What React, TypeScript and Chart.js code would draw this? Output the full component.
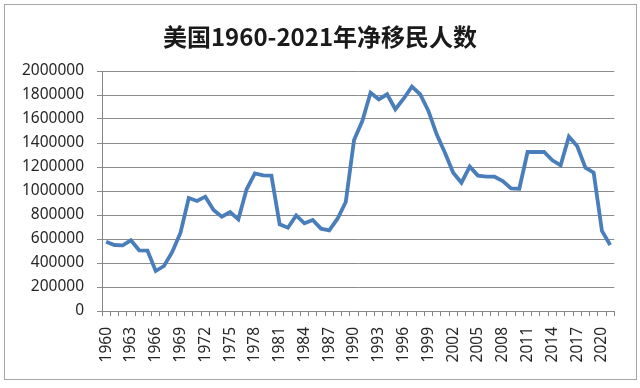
import React, { useEffect, useRef } from "react";
import { Chart, registerables } from "chart.js";

Chart.register(...registerables);

const titleText = "美国1960-2021年净移民人数";

const years: string[] = [];
for (let y = 1960; y <= 2021; y++) years.push(String(y));

const netMigration: number[] = [
  578000, 550000, 547000, 589000, 506000, 503000, 333000, 375000, 492000, 653000,
  942000, 917000, 953000, 842000, 786000, 825000, 764000, 1014000, 1147000, 1131000,
  1128000, 722000, 694000, 797000, 731000, 758000, 686000, 672000, 769000, 908000,
  1425000, 1583000, 1819000, 1764000, 1806000, 1681000, 1769000, 1869000, 1806000, 1667000,
  1472000, 1319000, 1153000, 1069000, 1203000, 1128000, 1119000, 1119000, 1083000, 1022000,
  1019000, 1325000, 1325000, 1325000, 1256000, 1214000, 1453000, 1375000, 1194000, 1153000,
  667000, 550000,
];

const yMin = 0;
const yMax = 2000000;
const yStep = 200000;
const labelEvery = 3;

const framePlugin = {
  id: "frame",
  beforeDraw(chart: any) {
    const ctx = chart.ctx;
    ctx.save();
    ctx.fillStyle = "#ffffff";
    ctx.fillRect(0, 0, chart.width, chart.height);
    ctx.strokeStyle = "#a6a6a6";
    ctx.lineWidth = 1;
    ctx.strokeRect(4.5, 4.5, 632, 375);
    ctx.restore();
  },
  afterDraw(chart: any) {
    const ctx = chart.ctx;
    ctx.save();
    ctx.fillStyle = "#1a1a1a";
    ctx.font = "bold 24px 'Noto Sans CJK SC'";
    ctx.textAlign = "center";
    ctx.textBaseline = "middle";
    ctx.fillText(titleText, 320, 37);
    ctx.restore();
  },
};

export default function App() {
  const ref = useRef<HTMLCanvasElement>(null);
  useEffect(() => {
    document.body.style.margin = "0";
    const chart = new Chart(ref.current!, {
      type: "line",
      data: {
        labels: years,
        datasets: [
          {
            data: netMigration,
            borderColor: "#4a7ebb",
            borderWidth: 3.8,
            pointRadius: 0,
            tension: 0,
            fill: false,
          },
        ],
      },
      options: {
        animation: false,
        responsive: false,
        events: [],
        layout: { padding: { top: 71, right: 24, left: 0, bottom: 0 } },
        plugins: { legend: { display: false }, title: { display: false }, tooltip: { enabled: false } },
        scales: {
          x: {
            type: "category",
            offset: true,
            afterFit(scale: any) {
              scale.height = 77;
            },
            grid: {
              offset: true,
              drawOnChartArea: false,
              drawTicks: true,
              tickLength: 5,
              color: "#868686",
            },
            border: { color: "#868686", width: 1 },
            ticks: {
              autoSkip: false,
              minRotation: 90,
              maxRotation: 90,
              padding: 11,
              color: "#262626",
              font: { family: "'Noto Sans'", size: 15.5 },
              callback: (_v: any, i: number) => (i % labelEvery === 0 ? years[i] : ""),
            },
          },
          y: {
            min: yMin,
            max: yMax,
            afterFit(scale: any) {
              scale.width = 102;
            },
            grid: {
              color: "#8c8c8c",
              lineWidth: 1,
              drawTicks: true,
              tickLength: 5,
            },
            border: { color: "#868686", width: 1 },
            ticks: {
              stepSize: yStep,
              padding: 13,
              color: "#262626",
              font: { family: "'Noto Sans'", size: 15.5 },
              callback: (v: any) => String(v),
            },
          },
        },
      },
      plugins: [framePlugin],
    });
    return () => chart.destroy();
  }, []);
  return (
    <div style={{ width: 640, height: 388 }}>
      <canvas ref={ref} width={640} height={388} style={{ display: "block" }} />
    </div>
  );
}
